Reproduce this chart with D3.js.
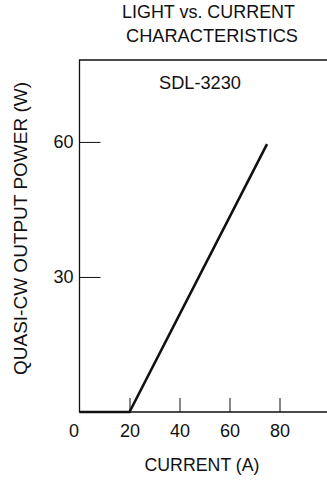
<!DOCTYPE html>
<html>
<head>
<meta charset="utf-8">
<script src="https://cdn.jsdelivr.net/npm/d3@7"></script>
<style>
  body { margin: 0; background: #fff; }
  svg text { font-family: "Liberation Sans", Arial, Helvetica, sans-serif; fill: #111; }
</style>
</head>
<body>
<div id="chart"></div>
<script>
// data
const current = [0, 20, 75];        // A
const power = [0, 0, 59.5];         // W
const xTicks = [0, 20, 40, 60, 80];
const yTicks = [30, 60];

const width = 327;
const height = 480;
const plotLeft = 79.5, plotTop = 60, plotBottom = 412, plotRight = 329.5;

const svg = d3.select('#chart')
  .append('svg')
  .attr('width', width)
  .attr('height', height);

const x = d3.scaleLinear().domain([0, 100]).range([plotLeft, plotRight]);
const y = d3.scaleLinear().domain([0, 78.2]).range([plotBottom, plotTop]);

// helper for the scanned lettering, which is a bit taller than Arial
function label(xPos, yPos, txt, size, len) {
  return svg.append('text')
    .attr('x', xPos).attr('y', yPos)
    .attr('text-anchor', 'middle')
    .attr('textLength', len)
    .attr('lengthAdjust', 'spacingAndGlyphs')
    .style('font-size', size + 'px')
    .text(txt);
}

// titles
label(208.5, 18, 'LIGHT vs. CURRENT', 19, 173);
label(212, 42, 'CHARACTERISTICS', 19, 172);

// frame: left, top and bottom, no right side
svg.append('path')
  .attr('d', `M${width},${plotTop}H${plotLeft}V${plotBottom}H${width}`)
  .attr('fill', 'none')
  .attr('stroke', '#111')
  .attr('stroke-width', 1.3);

// x axis, ticks pointing inward
const xAxis = svg.append('g')
  .attr('transform', `translate(0,${plotBottom})`)
  .call(d3.axisBottom(x).tickValues(xTicks).tickSize(-14).tickSizeOuter(0).tickPadding(12));
xAxis.select('.domain').remove();
xAxis.selectAll('.tick line').attr('stroke', '#111');
xAxis.selectAll('.tick').filter(d => d === 0).select('line').remove();
xAxis.selectAll('.tick').filter(d => d === 0).select('text').attr('dx', -6);
xAxis.selectAll('text').style('font-size', '18px').attr('fill', '#111');

// y axis, ticks pointing inward
const yAxis = svg.append('g')
  .attr('transform', `translate(${plotLeft},0)`)
  .call(d3.axisLeft(y).tickValues(yTicks).tickSize(-21).tickSizeOuter(0).tickPadding(6));
yAxis.select('.domain').remove();
yAxis.selectAll('.tick line').attr('stroke', '#111');
yAxis.selectAll('text').style('font-size', '18px').attr('fill', '#111');

// axis titles
label(202, 471, 'CURRENT (A)', 19, 115);
label(0, 0, 'QUASI-CW OUTPUT POWER (W)', 19, 293)
  .attr('transform', 'translate(27,228.5) rotate(-90)');

// model label
label(200, 89, 'SDL-3230', 18, 82);

// curve
const pts = current.map((c, i) => [c, power[i]]);
svg.append('path')
  .datum(pts)
  .attr('d', d3.line().x(d => x(d[0])).y(d => y(d[1])))
  .attr('fill', 'none')
  .attr('stroke', '#111')
  .attr('stroke-width', 2.6)
  .attr('stroke-linejoin', 'miter');
</script>
</body>
</html>
